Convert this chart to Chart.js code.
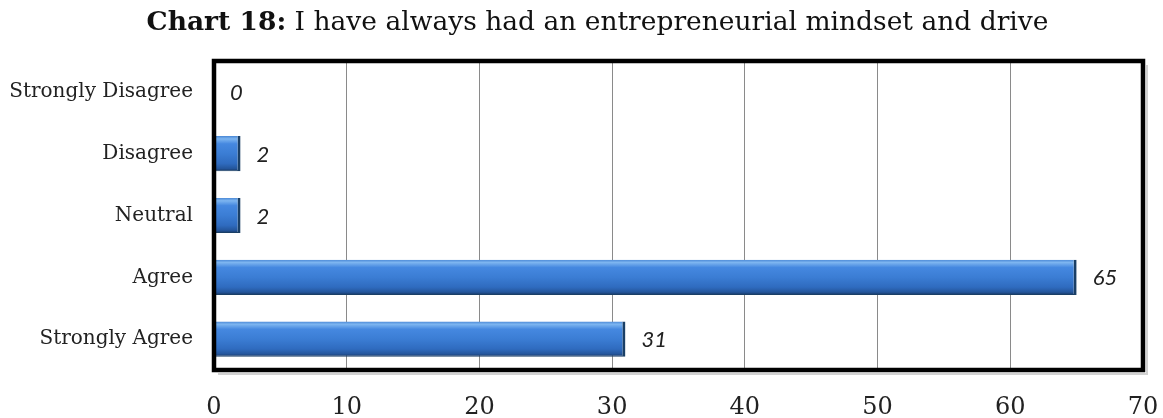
<!DOCTYPE html>
<html lang="en">
<head>
<meta charset="UTF-8">
<title>Chart 18</title>
<script src="https://cdn.jsdelivr.net/npm/chart.js"></script>
<style>
  html, body { margin: 0; padding: 0; background: #fff; }
  #wrap { position: relative; width: 1163px; height: 418px; }
  #title {
    position: absolute; top: 8px; left: 0; width: 1163px; padding-left: 32px; box-sizing: border-box;
    text-align: center; font-family: 'DejaVu Serif', serif; font-size: 26.5px; line-height: 1; color: #111;
  }
  #chart { position: absolute; left: 0; top: 0; }
</style>
</head>
<body>
<div id="wrap">
  <canvas id="chart" width="1163" height="418"></canvas>
  <div id="title"><b>Chart 18:</b> I have always had an entrepreneurial mindset and drive</div>
</div>
<script>
// survey answers
const categories = ['Strongly Disagree', 'Disagree', 'Neutral', 'Agree', 'Strongly Agree'];
const responses = [0, 2, 2, 65, 31];
const xTicks = [0, 10, 20, 30, 40, 50, 60, 70];

const BAR_PCT = 0.57;

// vertical gradient so each bar looks like a rounded tube
function barFill(ctx) {
  const chart = ctx.chart;
  const y = chart.scales.y;
  if (!y || ctx.type !== 'data') return '#3a7ad0';
  const c = y.getPixelForValue(ctx.dataIndex);
  const half = (y.height / categories.length) * BAR_PCT / 2;
  if (!isFinite(c) || !isFinite(half) || half <= 0) return '#3a7ad0';
  const g = chart.ctx.createLinearGradient(0, c - half, 0, c + half);
  g.addColorStop(0, '#4a88d6');
  g.addColorStop(0.08, '#7db5f0');
  g.addColorStop(0.22, '#4588e0');
  g.addColorStop(0.5, '#3b7dd4');
  g.addColorStop(0.78, '#2f6bbf');
  g.addColorStop(0.92, '#24569c');
  g.addColorStop(1, '#173560');
  return g;
}

// black frame round the plot area with a soft shadow on right/bottom
const frame = {
  id: 'frame',
  afterDraw(chart) {
    const { ctx, chartArea: a } = chart;
    ctx.save();
    ctx.strokeStyle = 'rgba(0,0,0,0.18)';
    ctx.lineWidth = 2;
    ctx.beginPath();
    ctx.moveTo(a.right + 4, a.top + 4);
    ctx.lineTo(a.right + 4, a.bottom + 4);
    ctx.lineTo(a.left + 4, a.bottom + 4);
    ctx.stroke();
    ctx.strokeStyle = '#000';
    ctx.lineWidth = 4.5;
    ctx.strokeRect(a.left, a.top, a.right - a.left, a.bottom - a.top);
    ctx.restore();
  }
};

// value written just past the end of each bar
const valueLabels = {
  id: 'valueLabels',
  afterDatasetsDraw(chart) {
    const { ctx } = chart;
    const meta = chart.getDatasetMeta(0);
    ctx.save();
    ctx.font = 'italic 22px Lato, sans-serif';
    ctx.fillStyle = '#222';
    ctx.textAlign = 'left';
    ctx.textBaseline = 'middle';
    meta.data.forEach((bar, i) => {
      ctx.fillText(String(responses[i]), bar.x + 16, bar.y + 1);
    });
    ctx.restore();
  }
};

new Chart(document.getElementById('chart'), {
  type: 'bar',
  data: {
    labels: categories,
    datasets: [{
      data: responses,
      backgroundColor: barFill,
      borderColor: '#1a3f66',
      borderWidth: { top: 0, right: 3, bottom: 1, left: 0 },
      borderSkipped: false,
      barPercentage: BAR_PCT,
      categoryPercentage: 1
    }]
  },
  plugins: [frame, valueLabels],
  options: {
    indexAxis: 'y',
    responsive: false,
    animation: false,
    layout: { padding: { top: 61, right: 20, bottom: 0, left: 0 } },
    plugins: { legend: { display: false }, tooltip: { enabled: false } },
    scales: {
      x: {
        min: 0,
        max: 70,
        afterBuildTicks(scale) { scale.ticks = xTicks.map(v => ({ value: v })); },
        afterFit(scale) {
          scale.height = 48;
          scale.paddingLeft = 0;
          scale.paddingRight = 0;
        },
        grid: { color: '#8a8a8a', lineWidth: 1, drawTicks: false },
        border: { display: false },
        ticks: {
          padding: 23,
          color: '#222',
          font: { family: 'DejaVu Serif', size: 24 }
        }
      },
      y: {
        afterFit(scale) { scale.width = 214; },
        grid: { display: false, drawTicks: false },
        border: { display: false },
        ticks: {
          padding: 21,
          color: '#222',
          font: { family: 'DejaVu Serif', size: 20 }
        }
      }
    }
  }
});
</script>
</body>
</html>
